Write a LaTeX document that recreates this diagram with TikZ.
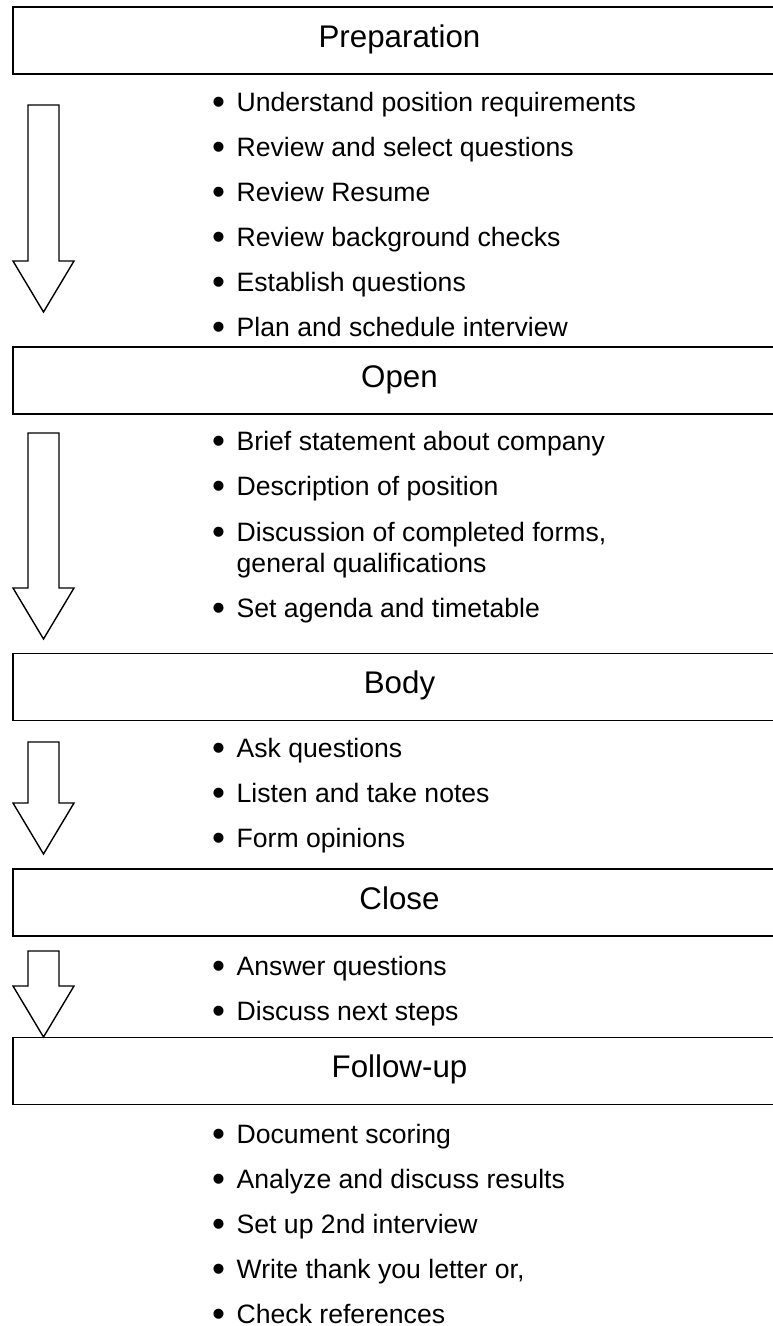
\documentclass[tikz,border=0pt]{standalone}
\usepackage{fontspec}
\setmainfont{Liberation Sans}

\newcommand{\itemdot}{\makebox[24.5pt][l]{\smash{\raisebox{-3.5pt}{\fontsize{37}{37}\selectfont\textbullet}}}}
\newcommand{\stagearrow}[2]{\draw[blockarrow] (28,#1)--(59,#1)--(59,#2-51)--(74,#2-51)--(43.5,#2)--(13,#2-51)--(28,#2-51)--cycle;}

\begin{document}
\begin{tikzpicture}[x=1pt,y=-1pt,
  stage/.style={draw,line width=1.8pt,minimum width=773pt,minimum height=67pt,inner sep=0pt,
    text height=23pt,text depth=10pt,font=\fontsize{31.3}{36}\selectfont},
  item/.style={anchor=base west,inner sep=0pt,font=\fontsize{26.6}{45}\selectfont},
  blockarrow/.style={draw,line width=1.4pt,line join=miter}]
\useasboundingbox (0,0) rectangle (772,1326);
\node[stage] (prep) at (399.5,40.5) {Preparation};
\node[stage] (open) at (399.5,380.5) {Open};
\node[stage] (body) at (399.5,687) {Body};
\node[stage] (close) at (399.5,902.5) {Close};
\node[stage] (follow) at (399.5,1071) {Follow-up};
\stagearrow{105}{312}
\stagearrow{433}{639}
\stagearrow{742}{854}
\stagearrow{951}{1037}
\node[item] (p1) at (212,111) {\itemdot Understand position requirements};
\node[item] (p2) at (212,156) {\itemdot Review and select questions};
\node[item] (p3) at (212,201) {\itemdot Review Resume};
\node[item] (p4) at (212,246) {\itemdot Review background checks};
\node[item] (p5) at (212,291) {\itemdot Establish questions};
\node[item] (p6) at (212,336) {\itemdot Plan and schedule interview};
\node[item] (o1) at (212,450) {\itemdot Brief statement about company};
\node[item] (o2) at (212,495) {\itemdot Description of position};
\node[item] (o3) at (212,541) {\itemdot Discussion of completed forms,};
\node[item] (o3b) at (236.5,572) {general qualifications};
\node[item] (o4) at (212,617) {\itemdot Set agenda and timetable};
\node[item] (b1) at (212,757) {\itemdot Ask questions};
\node[item] (b2) at (212,802) {\itemdot Listen and take notes};
\node[item] (b3) at (212,847) {\itemdot Form opinions};
\node[item] (c1) at (212,975) {\itemdot Answer questions};
\node[item] (c2) at (212,1020) {\itemdot Discuss next steps};
\node[item] (f1) at (212,1143) {\itemdot Document scoring};
\node[item] (f2) at (212,1188) {\itemdot Analyze and discuss results};
\node[item] (f3) at (212,1233) {\itemdot Set up 2nd interview};
\node[item] (f4) at (212,1278) {\itemdot Write thank you letter or,};
\node[item] (f5) at (212,1323) {\itemdot Check references};
\end{tikzpicture}
\end{document}
